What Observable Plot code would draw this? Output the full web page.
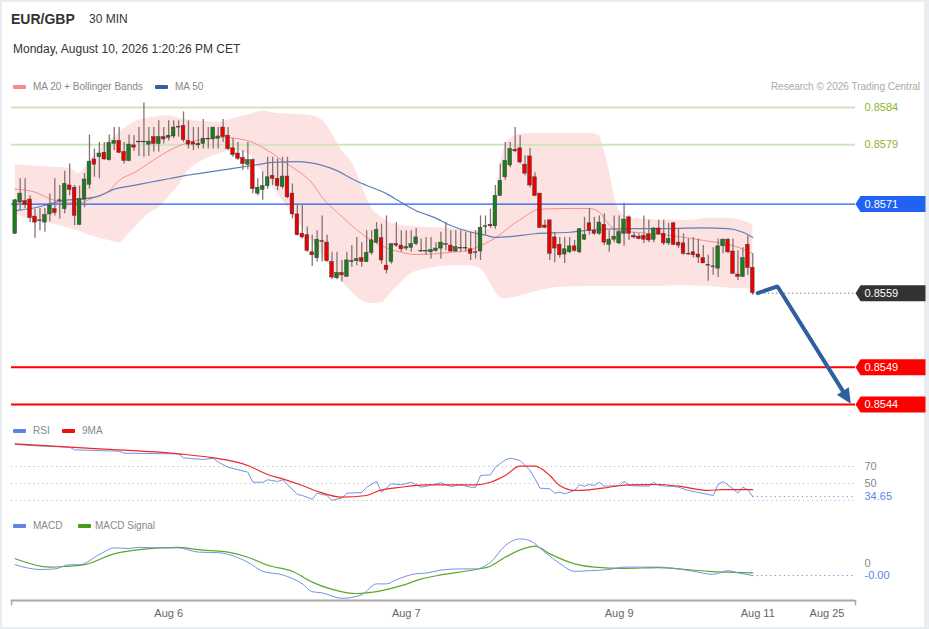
<!DOCTYPE html>
<html>
<head>
<meta charset="utf-8">
<script src="https://cdn.jsdelivr.net/npm/d3@7"></script>
<script src="https://cdn.jsdelivr.net/npm/@observablehq/plot@0.6"></script>
<style>
  html,body{margin:0;padding:0;}
  body{width:929px;height:629px;background:#e9edf2;position:relative;overflow:hidden;font-family:"Liberation Sans",Arial,Helvetica,sans-serif;}
  #sheet{position:absolute;left:2px;top:2px;width:922px;height:625px;background:#fff;}
  .t{position:absolute;white-space:nowrap;line-height:14px;}
  .sw{position:absolute;width:13px;height:4px;border-radius:1px;}
</style>
</head>
<body>
<div id="sheet"></div>
<div class="t" style="left:11px;top:11px;font-size:14px;font-weight:bold;color:#333;line-height:16px;">EUR/GBP</div>
<div class="t" style="left:89px;top:12px;font-size:12px;color:#333;">30 MIN</div>
<div class="t" style="left:13px;top:42px;font-size:12px;color:#333;">Monday, August 10, 2026 1:20:26 PM CET</div>

<div class="sw" style="left:13px;top:85px;background:#f78b8b;"></div>
<div class="t" style="left:33px;top:80px;font-size:10px;color:#888;">MA 20 + Bollinger Bands</div>
<div class="sw" style="left:155px;top:85px;background:#34609f;"></div>
<div class="t" style="left:175px;top:80px;font-size:10px;color:#888;">MA 50</div>
<div class="t" style="right:9px;top:80px;font-size:10px;color:#aaa;">Research © 2026 Trading Central</div>

<div class="sw" style="left:13px;top:429px;background:#5f84e0;"></div>
<div class="t" style="left:33px;top:424px;font-size:10px;color:#888;">RSI</div>
<div class="sw" style="left:62px;top:429px;background:#ee1111;"></div>
<div class="t" style="left:82px;top:424px;font-size:10px;color:#888;">9MA</div>

<div class="sw" style="left:13px;top:524px;background:#5f84e0;"></div>
<div class="t" style="left:33px;top:519px;font-size:10px;color:#888;">MACD</div>
<div class="sw" style="left:78px;top:524px;background:#4a9a1a;"></div>
<div class="t" style="left:95px;top:519px;font-size:10px;color:#888;">MACD Signal</div>

<script>
// ---------------- DATA ----------------
// 30-minute candles, index 0 .. 149
const open = [
0.85670,0.85712,0.85714,0.85716,0.85693,0.85688,0.85685,0.85696,0.85703,0.85714,
0.85703,0.85735,0.85732,0.85682,0.85716,0.85736,0.85770,0.85773,0.85779,0.85769,
0.85791,0.85795,0.85780,0.85768,0.85789,0.85794,0.85793,0.85790,0.85800,0.85791,
0.85800,0.85799,0.85801,0.85813,0.85815,0.85795,0.85793,0.85791,0.85791,0.85798,
0.85797,0.85798,0.85813,0.85802,0.85785,0.85778,0.85772,0.85763,0.85769,0.85724,
0.85729,0.85734,0.85748,0.85744,0.85733,0.85747,0.85724,0.85696,0.85670,0.85668,
0.85645,0.85637,0.85660,0.85658,0.85632,0.85610,0.85617,0.85612,0.85632,0.85633,
0.85637,0.85632,0.85644,0.85658,0.85664,0.85627,0.85632,0.85656,0.85654,0.85650,
0.85651,0.85656,0.85647,0.85646,0.85645,0.85647,0.85650,0.85655,0.85654,0.85646,
0.85651,0.85650,0.85649,0.85644,0.85646,0.85679,0.85682,0.85680,0.85721,0.85746,
0.85762,0.85783,0.85785,0.85763,0.85774,0.85746,0.85724,0.85681,0.85688,0.85665,
0.85655,0.85642,0.85645,0.85653,0.85645,0.85662,0.85684,0.85674,0.85670,0.85682,
0.85655,0.85662,0.85657,0.85670,0.85692,0.85667,0.85666,0.85667,0.85669,0.85662,
0.85677,0.85670,0.85657,0.85684,0.85658,0.85657,0.85643,0.85645,0.85642,0.85637,
0.85628,0.85626,0.85623,0.85653,0.85662,0.85646,0.85615,0.85612,0.85655,0.85624];
const high = [
0.85716,0.85744,0.85744,0.85721,0.85703,0.85704,0.85704,0.85724,0.85744,0.85735,
0.85754,0.85764,0.85735,0.85734,0.85751,0.85803,0.85784,0.85793,0.85793,0.85803,
0.85813,0.85813,0.85793,0.85803,0.85802,0.85813,0.85846,0.85813,0.85813,0.85822,
0.85813,0.85822,0.85822,0.85822,0.85834,0.85822,0.85813,0.85813,0.85824,0.85813,
0.85813,0.85813,0.85824,0.85813,0.85798,0.85793,0.85782,0.85793,0.85771,0.85744,
0.85753,0.85773,0.85773,0.85771,0.85773,0.85773,0.85737,0.85708,0.85708,0.85679,
0.85668,0.85674,0.85694,0.85668,0.85645,0.85645,0.85634,0.85645,0.85654,0.85665,
0.85658,0.85674,0.85674,0.85685,0.85683,0.85694,0.85656,0.85685,0.85674,0.85674,
0.85674,0.85677,0.85663,0.85665,0.85665,0.85658,0.85672,0.85685,0.85674,0.85674,
0.85674,0.85672,0.85672,0.85674,0.85694,0.85694,0.85703,0.85735,0.85764,0.85793,
0.85793,0.85813,0.85802,0.85775,0.85785,0.85752,0.85724,0.85688,0.85688,0.85672,
0.85665,0.85665,0.85665,0.85661,0.85677,0.85692,0.85704,0.85692,0.85694,0.85697,
0.85674,0.85694,0.85694,0.85711,0.85694,0.85672,0.85670,0.85694,0.85688,0.85678,
0.85688,0.85688,0.85684,0.85685,0.85677,0.85670,0.85663,0.85665,0.85663,0.85654,
0.85641,0.85651,0.85663,0.85663,0.85663,0.85663,0.85647,0.85651,0.85667,0.85643];
const low = [
0.85669,0.85701,0.85704,0.85685,0.85664,0.85674,0.85672,0.85686,0.85694,0.85690,
0.85697,0.85721,0.85681,0.85681,0.85705,0.85730,0.85746,0.85744,0.85769,0.85768,
0.85782,0.85778,0.85764,0.85767,0.85781,0.85774,0.85773,0.85774,0.85780,0.85780,
0.85791,0.85795,0.85798,0.85800,0.85793,0.85784,0.85782,0.85784,0.85784,0.85784,
0.85784,0.85784,0.85793,0.85782,0.85773,0.85769,0.85755,0.85756,0.85724,0.85721,
0.85715,0.85730,0.85735,0.85728,0.85730,0.85717,0.85690,0.85667,0.85663,0.85645,
0.85626,0.85632,0.85632,0.85632,0.85608,0.85608,0.85605,0.85611,0.85625,0.85627,
0.85625,0.85631,0.85641,0.85656,0.85629,0.85616,0.85629,0.85652,0.85645,0.85647,
0.85645,0.85654,0.85645,0.85641,0.85636,0.85645,0.85636,0.85647,0.85645,0.85645,
0.85645,0.85645,0.85634,0.85636,0.85634,0.85668,0.85677,0.85676,0.85720,0.85742,
0.85759,0.85779,0.85764,0.85748,0.85732,0.85720,0.85677,0.85677,0.85634,0.85631,
0.85637,0.85630,0.85643,0.85645,0.85643,0.85661,0.85668,0.85668,0.85668,0.85654,
0.85645,0.85658,0.85655,0.85653,0.85661,0.85663,0.85662,0.85657,0.85658,0.85658,
0.85668,0.85654,0.85654,0.85654,0.85650,0.85641,0.85641,0.85637,0.85630,0.85630,
0.85606,0.85614,0.85611,0.85643,0.85643,0.85616,0.85607,0.85611,0.85614,0.85587];
const close = [
0.85715,0.85724,0.85709,0.85691,0.85685,0.85687,0.85695,0.85708,0.85698,0.85715,
0.85737,0.85729,0.85694,0.85717,0.85743,0.85767,0.85763,0.85778,0.85770,0.85792,
0.85795,0.85779,0.85768,0.85790,0.85786,0.85793,0.85794,0.85794,0.85791,0.85800,
0.85797,0.85802,0.85813,0.85814,0.85796,0.85790,0.85790,0.85789,0.85798,0.85797,
0.85813,0.85801,0.85800,0.85784,0.85776,0.85771,0.85764,0.85769,0.85730,0.85732,
0.85734,0.85746,0.85744,0.85734,0.85747,0.85719,0.85696,0.85668,0.85665,0.85647,
0.85641,0.85662,0.85659,0.85633,0.85611,0.85617,0.85614,0.85634,0.85633,0.85636,
0.85632,0.85644,0.85661,0.85675,0.85634,0.85621,0.85656,0.85654,0.85649,0.85652,
0.85656,0.85665,0.85646,0.85647,0.85648,0.85650,0.85658,0.85656,0.85646,0.85652,
0.85650,0.85651,0.85643,0.85645,0.85678,0.85680,0.85680,0.85721,0.85741,0.85768,
0.85784,0.85781,0.85766,0.85751,0.85735,0.85721,0.85678,0.85678,0.85643,0.85650,
0.85641,0.85649,0.85653,0.85647,0.85676,0.85668,0.85674,0.85670,0.85685,0.85658,
0.85662,0.85666,0.85672,0.85689,0.85670,0.85665,0.85663,0.85662,0.85661,0.85677,
0.85669,0.85657,0.85663,0.85655,0.85654,0.85643,0.85642,0.85641,0.85638,0.85630,
0.85627,0.85625,0.85653,0.85662,0.85645,0.85616,0.85612,0.85637,0.85624,0.85590];

// Bollinger bands (read at these candle indexes)
const bandIdx = [0,4,7,11,13,15,17,19,21,23,25,27,29,31,33,35,38,41,44,47,50,53,56,59,62,64,66,68,70,72,74,76,78,80,84,88,92,94,96,97,98,99,100,102,104,110,116,118,119,120,121,122,124,128,130,134,136,140,144,146,148,149];
const bandUpper = [0.85763,0.85761,0.85760,0.85758,0.85751,0.85769,0.85782,0.85796,0.85805,0.85816,
0.85823,0.85826,0.85828,0.85829,0.85826,0.85823,0.85821,0.85820,0.85825,0.85830,
0.85835,0.85832,0.85831,0.85830,0.85823,0.85805,0.85782,0.85766,0.85735,0.85705,
0.85692,0.85684,0.85681,0.85680,0.85678,0.85677,0.85675,0.85674,0.85677,0.85715,
0.85762,0.85789,0.85798,0.85804,0.85805,0.85805,0.85805,0.85802,0.85782,0.85755,
0.85722,0.85701,0.85692,0.85689,0.85688,0.85688,0.85688,0.85691,0.85691,0.85689,
0.85685,0.85682];
const bandLower = [0.85696,0.85688,0.85684,0.85677,0.85673,0.85668,0.85664,0.85661,0.85658,0.85670,
0.85684,0.85697,0.85705,0.85719,0.85735,0.85755,0.85769,0.85777,0.85782,0.85778,
0.85752,0.85724,0.85697,0.85668,0.85641,0.85623,0.85606,0.85591,0.85580,0.85576,
0.85577,0.85591,0.85604,0.85616,0.85624,0.85627,0.85627,0.85623,0.85603,0.85592,
0.85584,0.85582,0.85583,0.85586,0.85590,0.85598,0.85599,0.85599,0.85599,0.85599,
0.85599,0.85599,0.85599,0.85599,0.85599,0.85600,0.85600,0.85599,0.85597,0.85596,
0.85596,0.85596];

// MA 20 and MA 50
const ma20Idx = [0,4,7,11,13,16,19,21,24,27,30,33,35,38,42,45,48,50,52,54,57,60,62,65,68,71,75,78,81,85,88,91,95,98,100,102,106,112,116,118,120,122,125,132,139,142,145,149];
const ma20Val = [0.85730,0.85726,0.85717,0.85712,0.85712,0.85719,0.85728,0.85742,0.85752,0.85765,
0.85778,0.85788,0.85793,0.85797,0.85800,0.85798,0.85793,0.85786,0.85778,0.85768,
0.85755,0.85738,0.85719,0.85699,0.85681,0.85665,0.85651,0.85645,0.85642,0.85643,
0.85645,0.85647,0.85657,0.85669,0.85680,0.85689,0.85703,0.85704,0.85704,0.85699,
0.85682,0.85674,0.85672,0.85668,0.85661,0.85658,0.85654,0.85643];
const ma50Idx = [0,4,10,14,17,20,24,27,31,34,38,41,45,48,52,57,62,65,68,71,75,78,81,85,88,91,95,97,100,105,112,118,125,132,139,144,147,149];
const ma50Val = [0.85701,0.85705,0.85715,0.85717,0.85721,0.85730,0.85735,0.85739,0.85744,0.85748,
0.85752,0.85755,0.85759,0.85762,0.85766,0.85767,0.85762,0.85755,0.85744,0.85735,
0.85724,0.85712,0.85701,0.85691,0.85681,0.85674,0.85668,0.85665,0.85666,0.85670,
0.85672,0.85676,0.85677,0.85677,0.85678,0.85677,0.85672,0.85665];

// Key levels
const resistLevels = [0.8584, 0.8579];
const pivotLevel = 0.8571;
const supportLevels = [0.8549, 0.8544];

// Forecast arrow path (candle index, price)
const forecastIdx = [150, 154, 168.8];
const forecastPx = [0.85590, 0.85599, 0.85441];

// RSI and its 9-period MA
const rsiIdx = [0,4,11,12,21,22,33,34,38,40,41,43,47,48,50,51,53,54,57,58,60,61,63,64,66,67,70,71,73,74,76,78,80,82,86,88,90,92,93,94,96,97,99,100,102,104,105,106,108,109,110,111,113,114,115,116,117,118,119,122,123,124,128,129,130,133,134,136,140,141,142,143,145,146,147,148,149];
const rsiVal = [95.9,94.4,92.7,89.6,88.0,85.6,84.9,80.2,78.2,79.8,
75.1,69.2,63.3,51.5,51.5,54.4,52.4,54.4,37.1,35.9,
31.5,38.6,35.9,30.0,33.2,38.6,39.4,45.6,52.4,39.8,
49.6,48.5,51.5,45.6,50.8,46.5,48.5,45.6,45.6,59.4,
60.2,69.2,77.9,79.8,77.1,65.3,55.5,44.5,43.8,38.6,
39.8,37.9,41.8,48.5,46.8,48.8,47.6,51.5,46.8,47.6,
52.7,47.6,46.8,51.5,47.6,46.5,45.6,41.8,37.1,35.9,
48.8,52.4,43.8,38.6,45.6,42.6,34.65];
const rsiMaIdx = [0,17,33,40,47,51,54,58,61,66,71,73,78,83,90,93,96,99,102,105,108,110,113,116,120,124,130,134,140,143,149];
const rsiMaVal = [96.7,90.8,84.9,80.2,71.2,60.6,55.5,47.6,40.9,33.9,
35.9,40.6,45.6,48.5,48.5,48.5,51.5,59.4,70.4,70.4,
59.4,47.6,41.8,42.6,45.6,48.5,48.8,46.8,41.8,42.9,42.9];
const rsiLevels = [70, 50, 30];
const rsiLabelLevels = [70, 50];

// MACD and signal, in pips (1 pip = 0.0001)
const PIP = 0.0001;
const macdIdx = [0,5,8,11,13,17,20,23,25,29,33,37,41,47,50,54,58,60,62,66,70,73,75,77,81,83,86,90,93,96,99,102,104,107,110,113,116,120,123,130,133,137,141,144,146,149];
const macdVal = [-0.02,-0.10,-0.09,-0.02,-0.02,0.15,0.26,0.25,0.27,0.26,
0.26,0.19,0.18,0.02,-0.13,-0.19,-0.34,-0.47,-0.49,-0.58,
-0.52,-0.34,-0.34,-0.27,-0.17,-0.16,-0.11,-0.09,-0.09,0.02,
0.30,0.41,0.38,0.19,0.00,-0.13,-0.12,-0.10,-0.06,-0.06,
-0.08,-0.13,-0.18,-0.12,-0.155,-0.20];
const sigIdx = [0,7,10,14,20,25,33,37,43,47,51,56,60,64,69,73,78,82,86,93,96,99,103,105,108,113,117,123,130,134,140,144,149];
const sigVal = [0.08,-0.06,-0.05,-0.02,0.16,0.23,0.27,0.23,0.19,0.105,
-0.03,-0.13,-0.31,-0.43,-0.50,-0.47,-0.37,-0.26,-0.19,-0.10,
-0.045,0.105,0.255,0.29,0.16,-0.005,-0.06,-0.08,-0.07,-0.09,
-0.13,-0.145,-0.155];

// Time axis ticks
const tickIdx = [31, 79, 122, 150, 164];
const tickLabels = ["Aug 6", "Aug 7", "Aug 9", "Aug 11", "Aug 25"];

// ---------------- LAYOUT / STYLE ----------------
const W = 929, ML = 11, MR = 74;
const X_DOMAIN = [-0.75, 169.75];
const PRICE_TOP = 95, PRICE_H = 320, PRICE_DOMAIN = [0.85425185, 0.85856162];
const RSI_TOP = 435, RSI_H = 70, RSI_DOMAIN = [24.12, 106.47];
const MACD_TOP = 530, MACD_H = 99, MACD_MB = 29, MACD_DOMAIN = [-0.6167, 0.55];
const FONT = "'Liberation Sans', Arial, Helvetica, sans-serif";
const GREEN = "#1e7b1e", RED = "#ee0000", WICK = "#857373";
const ARROW = "#2f5f9f";
const BLUE_LINE = "#7393e2";

const n = close.length;
const candles = d3.range(n).map(i => ({i, o: open[i], h: high[i], l: low[i], c: close[i]}));
const upC = candles.filter(d => d.c >= d.o);
const dnC = candles.filter(d => d.c < d.o);
const band = bandIdx.map((i, k) => ({i, hi: bandUpper[k], lo: bandLower[k]}));
const ma20 = ma20Idx.map((i, k) => ({i, v: ma20Val[k]}));
const ma50 = ma50Idx.map((i, k) => ({i, v: ma50Val[k]}));
const lastClose = close[n - 1];

// tag shape (points left) used for price labels on the right edge
const tagSymbol = {draw(ctx) { ctx.moveTo(0, 0); ctx.lineTo(5, -8); ctx.lineTo(70, -8); ctx.lineTo(70, 8); ctx.lineTo(5, 8); ctx.closePath(); }};

// forecast arrow
const fc = forecastIdx.map((x, k) => ({x, y: forecastPx[k]}));
const pxPerX = (W - ML - MR) / (X_DOMAIN[1] - X_DOMAIN[0]);
const pxPerY = PRICE_H / (PRICE_DOMAIN[1] - PRICE_DOMAIN[0]);
const fa = fc[1], fb = fc[2];
const dxp = (fb.x - fa.x) * pxPerX, dyp = (fa.y - fb.y) * pxPerY;
const flen = Math.hypot(dxp, dyp), ux = dxp / flen, uy = dyp / flen;
const HL = 15, HW = 7;
const headSymbol = {draw(ctx) {
  const bx = -ux * HL, by = -uy * HL;
  ctx.moveTo(0, 0);
  ctx.lineTo(bx - uy * HW, by + ux * HW);
  ctx.lineTo(bx + uy * HW, by - ux * HW);
  ctx.closePath();
}};
const shaftT = 1 - (HL - 3) / flen;
const shaft = [fc[0], fa, {x: fa.x + (fb.x - fa.x) * shaftT, y: fa.y + (fb.y - fa.y) * shaftT}];

const tags = [
  {v: pivotLevel, bg: "#1f62f4"},
  {v: lastClose, bg: "#333333"},
  {v: supportLevels[0], bg: "#ff0000"},
  {v: supportLevels[1], bg: "#ff0000"}
];

const baseStyle = {background: "transparent", fontFamily: FONT, fontSize: "11px", color: "#666", overflow: "visible"};

const pricePlot = Plot.plot({
  width: W, height: PRICE_H, marginLeft: ML, marginRight: MR, marginTop: 0, marginBottom: 0,
  x: {domain: X_DOMAIN, axis: null},
  y: {domain: PRICE_DOMAIN, axis: null},
  style: baseStyle,
  marks: [
    Plot.areaY(band, {x: "i", y1: "lo", y2: "hi", fill: "#fde2e2", curve: "monotone-x"}),
    Plot.ruleY(resistLevels, {stroke: "#cfe5bd", strokeWidth: 2}),
    Plot.line(ma20, {x: "i", y: "v", stroke: "#f39090", strokeWidth: 1, curve: "monotone-x"}),
    Plot.line(ma50, {x: "i", y: "v", stroke: "#5e80b8", strokeWidth: 1.2, curve: "monotone-x"}),
    Plot.ruleY([pivotLevel], {stroke: "#1f5ef0", strokeWidth: 1.2}),
    Plot.ruleY(supportLevels, {stroke: "#ff0000", strokeWidth: 2}),
    Plot.ruleX(candles, {x: "i", y1: "l", y2: "h", stroke: WICK, strokeWidth: 1.3}),
    Plot.rect(upC, {x1: d => d.i - 0.37, x2: d => d.i + 0.37, y1: "o", y2: "c", fill: GREEN, stroke: "#3a3a3a", strokeWidth: 0.5}),
    Plot.rect(dnC, {x1: d => d.i - 0.37, x2: d => d.i + 0.37, y1: "o", y2: "c", fill: RED, stroke: "#3a3a3a", strokeWidth: 0.5}),
    Plot.ruleY([{y: lastClose, x1: n - 1, x2: X_DOMAIN[1]}], {y: "y", x1: "x1", x2: "x2", stroke: "#444", strokeDasharray: "1,3"}),
    Plot.line(shaft, {x: "x", y: "y", stroke: ARROW, strokeWidth: 4, strokeLinejoin: "miter"}),
    Plot.dot([fb], {x: "x", y: "y", symbol: headSymbol, fill: ARROW, stroke: "none", r: 5}),
    Plot.text(resistLevels, {y: d => d, frameAnchor: "right", dx: 9, textAnchor: "start", text: d => d.toFixed(4), fill: "#8cb42a", fontSize: 11}),
    tags.map(t => [
      Plot.dot([t.v], {y: d => d, frameAnchor: "right", symbol: tagSymbol, fill: t.bg, stroke: "none", r: 5}),
      Plot.text([t.v], {y: d => d, frameAnchor: "right", dx: 9, textAnchor: "start", text: d => d.toFixed(4), fill: "#fff", fontSize: 11})
    ])
  ]
});

const rsi = rsiIdx.map((i, k) => ({i, v: rsiVal[k]}));
const rsiMa = rsiMaIdx.map((i, k) => ({i, v: rsiMaVal[k]}));
const lastRsi = rsiVal[rsiVal.length - 1];
const lastRsiIdx = rsiIdx[rsiIdx.length - 1];

const rsiPlot = Plot.plot({
  width: W, height: RSI_H, marginLeft: ML, marginRight: MR, marginTop: 0, marginBottom: 0,
  x: {domain: X_DOMAIN, axis: null},
  y: {domain: RSI_DOMAIN, axis: null},
  style: baseStyle,
  marks: [
    Plot.ruleY(rsiLevels, {stroke: "#bdbdbd", strokeDasharray: "1.2,3.3"}),
    Plot.line(rsi, {x: "i", y: "v", stroke: BLUE_LINE, strokeWidth: 1}),
    Plot.line(rsiMa, {x: "i", y: "v", stroke: "#f02828", strokeWidth: 1.2, curve: "monotone-x"}),
    Plot.ruleY([{y: lastRsi, x1: lastRsiIdx, x2: X_DOMAIN[1]}], {y: "y", x1: "x1", x2: "x2", stroke: BLUE_LINE, strokeDasharray: "1.2,3.3"}),
    Plot.text(rsiLabelLevels, {y: d => d, frameAnchor: "right", dx: 9, textAnchor: "start", text: d => String(d), fill: "#888", fontSize: 11}),
    Plot.text([lastRsi], {y: d => d, frameAnchor: "right", dx: 9, textAnchor: "start", text: d => d.toFixed(2), fill: "#5b84e8", fontSize: 11})
  ]
});

const macd = macdIdx.map((i, k) => ({i, v: macdVal[k]}));
const sig = sigIdx.map((i, k) => ({i, v: sigVal[k]}));
const lastMacd = macdVal[macdVal.length - 1];
const lastMacdIdx = macdIdx[macdIdx.length - 1];
const tickLabelOf = new Map(tickIdx.map((t, k) => [t, tickLabels[k]]));

const macdPlot = Plot.plot({
  width: W, height: MACD_H, marginLeft: ML, marginRight: MR, marginTop: 0, marginBottom: MACD_MB,
  x: {domain: X_DOMAIN, ticks: tickIdx, tickFormat: d => tickLabelOf.get(d) ?? "", tickSize: 0, tickPadding: 9, label: null},
  y: {domain: MACD_DOMAIN, axis: null},
  style: baseStyle,
  marks: [
    Plot.line(sig, {x: "i", y: "v", stroke: "#5aa82a", strokeWidth: 1.2, curve: "monotone-x"}),
    Plot.line(macd, {x: "i", y: "v", stroke: BLUE_LINE, strokeWidth: 1, curve: "monotone-x"}),
    Plot.ruleY([{y: lastMacd, x1: lastMacdIdx, x2: X_DOMAIN[1]}], {y: "y", x1: "x1", x2: "x2", stroke: BLUE_LINE, strokeDasharray: "1.2,3.3"}),
    Plot.text([0], {y: d => d, frameAnchor: "right", dx: 9, textAnchor: "start", text: () => "0", fill: "#888", fontSize: 11}),
    Plot.text([lastMacd], {y: d => d, frameAnchor: "right", dx: 9, textAnchor: "start", text: d => (d * PIP).toFixed(2), fill: "#5b84e8", fontSize: 11}),
    Plot.ruleY([MACD_DOMAIN[0]], {stroke: "#a8a8a8", strokeWidth: 2}),
    Plot.ruleX(X_DOMAIN, {y1: MACD_DOMAIN[0], y2: MACD_DOMAIN[0] - 0.09, stroke: "#a8a8a8", strokeWidth: 1.5})
  ]
});

for (const [el, top] of [[pricePlot, PRICE_TOP], [rsiPlot, RSI_TOP], [macdPlot, MACD_TOP]]) {
  el.style.position = "absolute";
  el.style.left = "0px";
  el.style.top = top + "px";
  document.body.appendChild(el);
}
</script>
</body>
</html>
